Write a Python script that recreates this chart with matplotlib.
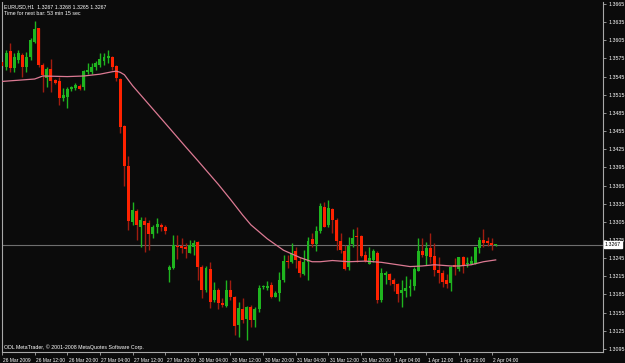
import numpy as np
import matplotlib
matplotlib.use("Agg")
import matplotlib.pyplot as plt
import matplotlib.transforms as mtransforms

plt.rcParams["font.family"] = ["Liberation Sans", "DejaVu Sans"]

# EURUSD H1 candles, one row per bar: open, high, low, close
opens = [1.3569, 1.3561, 1.3587, 1.3559, 1.3572, 1.3581, 1.3561, 1.3578, 1.3603, 1.3625,
         1.3564, 1.3543, 1.3558, 1.3539, 1.3538, 1.3510, 1.3512, 1.3524, 1.3526, 1.3529,
         1.3527, 1.3552, 1.3553, 1.3561, 1.3564, 1.3570, 1.3575, 1.3578, 1.3563, 1.3541,
         1.3463, 1.3397, 1.3305, 1.3323, 1.3297, 1.3306, 1.3303, 1.3285, 1.3297, 1.3300,
         1.3296, 1.3225, 1.3229, 1.3265, 1.3265, 1.3264, 1.3253, 1.3264, 1.3271, 1.3231,
         1.3192, 1.3227, 1.3175, 1.3192, 1.3171, 1.3166, 1.3192, 1.3181, 1.3134, 1.3161,
         1.3144, 1.3164, 1.3142, 1.3161, 1.3197, 1.3196, 1.3201, 1.3181, 1.3187, 1.3209,
         1.3240, 1.3238, 1.3256, 1.3241, 1.3219, 1.3238, 1.3276, 1.3269, 1.3289, 1.3329,
         1.3299, 1.3326, 1.3308, 1.3273, 1.3257, 1.3230, 1.3268, 1.3282, 1.3282, 1.3250,
         1.3236, 1.3242, 1.3254, 1.3175, 1.3217, 1.3219, 1.3209, 1.3203, 1.3187, 1.3191,
         1.3195, 1.3199, 1.3224, 1.3257, 1.3249, 1.3262, 1.3248, 1.3226, 1.3220, 1.3208,
         1.3204, 1.3233, 1.3227, 1.3246, 1.3235, 1.3236, 1.3236, 1.3261, 1.3275, 1.3273,
         1.3270, 1.3267]
highs = [1.3572, 1.3589, 1.3601, 1.3584, 1.3589, 1.3584, 1.3586, 1.3609, 1.3637, 1.3626,
         1.3567, 1.3561, 1.3574, 1.3541, 1.3545, 1.3526, 1.3528, 1.3530, 1.3534, 1.3533,
         1.3556, 1.3567, 1.3568, 1.3570, 1.3584, 1.3584, 1.3589, 1.3579, 1.3564, 1.3543,
         1.3465, 1.3413, 1.3338, 1.3326, 1.3313, 1.3313, 1.3308, 1.3300, 1.3311, 1.3303,
         1.3300, 1.3234, 1.3283, 1.3283, 1.3278, 1.3270, 1.3275, 1.3275, 1.3273, 1.3234,
         1.3232, 1.3239, 1.3206, 1.3196, 1.3179, 1.3209, 1.3209, 1.3182, 1.3173, 1.3179,
         1.3166, 1.3167, 1.3164, 1.3201, 1.3201, 1.3207, 1.3205, 1.3190, 1.3222, 1.3250,
         1.3250, 1.3270, 1.3264, 1.3247, 1.3258, 1.3280, 1.3286, 1.3298, 1.3336, 1.3337,
         1.3341, 1.3328, 1.3311, 1.3286, 1.3267, 1.3280, 1.3293, 1.3297, 1.3283, 1.3256,
         1.3263, 1.3260, 1.3256, 1.3229, 1.3223, 1.3220, 1.3212, 1.3204, 1.3209, 1.3215,
         1.3210, 1.3231, 1.3278, 1.3278, 1.3272, 1.3286, 1.3270, 1.3247, 1.3225, 1.3219,
         1.3232, 1.3245, 1.3247, 1.3248, 1.3247, 1.3248, 1.3264, 1.3280, 1.3293, 1.3280,
         1.3278, 1.3268]
lows = [1.3559, 1.3556, 1.3553, 1.3553, 1.3567, 1.3545, 1.3553, 1.3572, 1.3601, 1.3561,
        1.3520, 1.3528, 1.3520, 1.3533, 1.3498, 1.3504, 1.3493, 1.3521, 1.3523, 1.3523,
        1.3523, 1.3549, 1.3550, 1.3556, 1.3561, 1.3564, 1.3567, 1.3556, 1.3537, 1.3452,
        1.3364, 1.3291, 1.3300, 1.3275, 1.3263, 1.3255, 1.3258, 1.3279, 1.3287, 1.3290,
        1.3285, 1.3206, 1.3227, 1.3243, 1.3253, 1.3245, 1.3253, 1.3250, 1.3209, 1.3179,
        1.3189, 1.3163, 1.3173, 1.3161, 1.3164, 1.3165, 1.3176, 1.3118, 1.3115, 1.3138,
        1.3110, 1.3131, 1.3131, 1.3156, 1.3194, 1.3192, 1.3179, 1.3180, 1.3174, 1.3206,
        1.3229, 1.3237, 1.3229, 1.3214, 1.3217, 1.3209, 1.3263, 1.3256, 1.3287, 1.3297,
        1.3297, 1.3287, 1.3258, 1.3253, 1.3225, 1.3225, 1.3264, 1.3239, 1.3247, 1.3239,
        1.3236, 1.3239, 1.3171, 1.3173, 1.3202, 1.3201, 1.3190, 1.3173, 1.3165, 1.3180,
        1.3182, 1.3192, 1.3223, 1.3247, 1.3234, 1.3237, 1.3215, 1.3204, 1.3197, 1.3196,
        1.3190, 1.3217, 1.3223, 1.3221, 1.3231, 1.3235, 1.3235, 1.3254, 1.3263, 1.3265,
        1.3258, 1.3265]
closes = [1.3562, 1.3584, 1.3559, 1.3578, 1.3584, 1.3561, 1.3578, 1.3605, 1.3624, 1.3564,
          1.3548, 1.3558, 1.3537, 1.3535, 1.3510, 1.3515, 1.3525, 1.3527, 1.3531, 1.3525,
          1.3554, 1.3556, 1.3561, 1.3567, 1.3574, 1.3578, 1.3579, 1.3561, 1.3542, 1.3462,
          1.3398, 1.3307, 1.3325, 1.3299, 1.3308, 1.3300, 1.3285, 1.3297, 1.3301, 1.3297,
          1.3290, 1.3231, 1.3267, 1.3263, 1.3262, 1.3260, 1.3267, 1.3270, 1.3231, 1.3192,
          1.3229, 1.3173, 1.3192, 1.3170, 1.3167, 1.3192, 1.3181, 1.3133, 1.3163, 1.3143,
          1.3164, 1.3142, 1.3161, 1.3196, 1.3199, 1.3199, 1.3181, 1.3188, 1.3209, 1.3241,
          1.3239, 1.3254, 1.3242, 1.3221, 1.3239, 1.3274, 1.3268, 1.3290, 1.3331, 1.3297,
          1.3327, 1.3308, 1.3274, 1.3258, 1.3227, 1.3265, 1.3279, 1.3280, 1.3248, 1.3241,
          1.3245, 1.3256, 1.3176, 1.3220, 1.3220, 1.3208, 1.3202, 1.3186, 1.3192, 1.3196,
          1.3199, 1.3227, 1.3257, 1.3250, 1.3261, 1.3247, 1.3226, 1.3220, 1.3206, 1.3202,
          1.3231, 1.3231, 1.3247, 1.3232, 1.3237, 1.3240, 1.3263, 1.3275, 1.3270, 1.3270,
          1.3267, 1.3267]

# moving average, read at a handful of bars
ma_bars = [0, 8, 10, 16, 20, 24, 27, 28, 29, 30, 32, 36, 40, 45, 48, 53, 56, 59, 61, 65, 69,
           73, 76, 78, 81, 85, 89, 93, 96, 100, 103, 106, 110, 112, 115, 118, 121]
ma_vals = [1.3537, 1.3541, 1.3546, 1.3545, 1.3546, 1.3549, 1.3553, 1.3554, 1.3552, 1.3548,
           1.3530, 1.3499, 1.3468, 1.3429, 1.3406, 1.3367, 1.3342, 1.3316, 1.3300, 1.3277,
           1.3258, 1.3246, 1.3239, 1.3239, 1.3241, 1.3239, 1.3240, 1.3238, 1.3235, 1.3231,
           1.3232, 1.3234, 1.3232, 1.3232, 1.3234, 1.3239, 1.3242]

time_labels = ["26 Mar 2009", "26 Mar 12:00", "26 Mar 20:00", "27 Mar 04:00", "27 Mar 12:00",
               "27 Mar 20:00", "30 Mar 04:00", "30 Mar 12:00", "30 Mar 20:00", "31 Mar 04:00",
               "31 Mar 12:00", "31 Mar 20:00", "1 Apr 04:00", "1 Apr 12:00", "1 Apr 20:00",
               "2 Apr 04:00"]
price_ticks = [1.3095, 1.3125, 1.3155, 1.3185, 1.3215, 1.3245, 1.3275, 1.3305, 1.3335, 1.3365,
               1.3395, 1.3425, 1.3455, 1.3485, 1.3515, 1.3545, 1.3575, 1.3605, 1.3635, 1.3665]
last_price = 1.3267

BG = "#0b0b0b"
UP = "#1fb51f"
DOWN = "#ff2200"
DOWN_WICK = "#a01c10"
AXIS = "#a8a8a8"
FS = 3.8

W, H = 625, 363
fig = plt.figure(figsize=(W / 100, H / 100), dpi=100, facecolor=BG)
ax = fig.add_axes([2 / W, 11 / H, 601 / W, 350 / H], facecolor=BG)

o = np.array(opens)
h = np.array(highs)
l = np.array(lows)
c = np.array(closes)
x = np.arange(len(o))
up = c >= o

# current price line behind the candles
ax.axhline(last_price, color="#6e6e6e", lw=0.8, zorder=1)

ax.vlines(x[up], l[up], h[up], color=UP, lw=1.0, zorder=2)
ax.vlines(x[~up], l[~up], h[~up], color=DOWN_WICK, lw=1.0, zorder=2)
body = np.maximum(np.abs(c - o), 0.00008)
ax.bar(x[up], body[up], bottom=o[up], width=0.72, color=UP, lw=0, zorder=3)
ax.bar(x[~up], body[~up], bottom=c[~up], width=0.72, color=DOWN, lw=0, zorder=3)

ax.plot(ma_bars, ma_vals, color="#dc7a93", lw=0.9, zorder=4)

ax.set_xlim(0, 601 / 4.08)
ax.set_ylim(1.30898, 1.36683)

ax.yaxis.tick_right()
ax.set_yticks(price_ticks)
ax.set_yticklabels([f"{p:.4f}" for p in price_ticks])
ax.set_xticks(np.arange(len(time_labels)) * 8)
ax.set_xticklabels(time_labels, ha="left")
ax.tick_params(axis="both", colors=AXIS, labelcolor="white", labelsize=FS,
               length=2.5, width=0.6, pad=1.5)
ax.tick_params(axis="x", labelsize=3.55)
# x labels start just right of their tick
offset = mtransforms.ScaledTranslation(1.0 / 72, 0, fig.dpi_scale_trans)
for lab in ax.get_xticklabels():
    lab.set_transform(lab.get_transform() + offset)

for side in ["left", "right", "bottom"]:
    ax.spines[side].set_color(AXIS)
    ax.spines[side].set_linewidth(0.8)
ax.spines["top"].set_visible(False)

# price label on the right axis
tr = mtransforms.blended_transform_factory(ax.transAxes, ax.transData)
ax.text(1.003, last_price, f"{last_price:.4f}", transform=tr, fontsize=FS, color="black",
        va="center", ha="left", zorder=6, clip_on=False,
        bbox=dict(boxstyle="square,pad=0.2", fc="white", ec="white"))

ax.text(0.004, 0.994, "EURUSD,H1  1.3267 1.3268 1.3265 1.3267", transform=ax.transAxes,
        color="white", fontsize=FS, va="top", ha="left")
ax.text(0.004, 0.974, "Time for next bar: 53 min 15 sec", transform=ax.transAxes,
        color="white", fontsize=FS, va="top", ha="left")
ax.text(0.004, 0.006, "ODL MetaTrader, \u00a9 2001-2008 MetaQuotes Software Corp.",
        transform=ax.transAxes, color="white", fontsize=FS, va="bottom", ha="left")

fig.savefig("out.png", dpi=100, facecolor=BG)
